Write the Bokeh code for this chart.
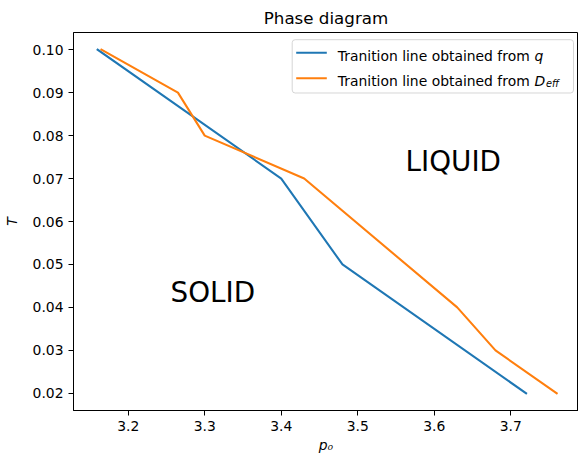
from bokeh.plotting import figure
from bokeh.models import (Range1d, FixedTicker, NumeralTickFormatter, Label,
                          BoxAnnotation)
from bokeh.embed import file_html
from bokeh.resources import INLINE

# ---- data ----
q_p0 = [3.16, 3.40, 3.48, 3.72]
q_T = [0.10, 0.07, 0.05, 0.02]
d_p0 = [3.165, 3.265, 3.30, 3.43, 3.63, 3.68, 3.76]
d_T = [0.10, 0.09, 0.08, 0.07, 0.04, 0.03, 0.02]
x_ticks = [3.2, 3.3, 3.4, 3.5, 3.6, 3.7]
y_ticks = [0.02, 0.03, 0.04, 0.05, 0.06, 0.07, 0.08, 0.09, 0.10]
legend_labels = ["Tranition line obtained from ", "Tranition line obtained from "]
C0 = "#1f77b4"
C1 = "#ff7f0e"
FONT = "DejaVu Sans"

p = figure(width=578, height=455, output_backend="svg", toolbar_location=None,
           x_range=Range1d(3.1285, 3.7885), y_range=Range1d(0.016, 0.104),
           min_border_left=73, min_border_right=0, min_border_top=32,
           min_border_bottom=45, title="Phase diagram")

p.title.text_font = FONT
p.title.text_font_size = "16.7px"
p.title.text_font_style = "normal"
p.title.align = "center"
p.title.text_color = "black"

p.background_fill_color = "white"
p.border_fill_color = "white"
p.outline_line_color = "black"
p.outline_line_width = 1
p.outline_line_alpha = 1
p.grid.visible = False

for ax in (p.xaxis[0], p.yaxis[0]):
    ax.axis_line_color = "black"
    ax.major_tick_line_color = "black"
    ax.major_tick_out = 5
    ax.major_tick_in = 0
    ax.minor_tick_line_color = None
    ax.major_label_text_font = FONT
    ax.major_label_text_font_size = "13.9px"
    ax.major_label_text_color = "black"
    ax.axis_label_text_font = FONT
    ax.axis_label_text_font_size = "13.9px"
    ax.axis_label_text_color = "black"
    ax.axis_label_text_font_style = "italic"

p.xaxis.ticker = FixedTicker(ticks=x_ticks)
p.xaxis.formatter = NumeralTickFormatter(format="0.0")
p.yaxis.ticker = FixedTicker(ticks=y_ticks)
p.yaxis.formatter = NumeralTickFormatter(format="0.00")
p.xaxis.axis_label = "p\u2080"
p.yaxis.axis_label = "T"
p.xaxis.axis_label_standoff = 3
p.yaxis.axis_label_standoff = 10

p.line(q_p0, q_T, line_color=C0, line_width=2.08, line_cap="square")
p.line(d_p0, d_T, line_color=C1, line_width=2.08, line_cap="square")

# region labels
p.add_layout(Label(x=3.2553, y=0.0434, text="SOLID", text_font=FONT,
                   text_font_size="27.8px", text_color="black",
                   text_baseline="alphabetic", text_align="left"))
p.add_layout(Label(x=3.5624, y=0.0739, text="LIQUID", text_font=FONT,
                   text_font_size="27.8px", text_color="black",
                   text_baseline="alphabetic", text_align="left"))

# legend (screen units relative to frame)
p.add_layout(BoxAnnotation(left=218.7, right=500, top=370.8, bottom=317.5,
                           left_units="screen", right_units="screen",
                           top_units="screen", bottom_units="screen",
                           fill_color="white", fill_alpha=0.8,
                           line_color="#cccccc", line_alpha=0.8, line_width=1,
                           border_radius=3))
for yc, col in ((357.8, C0), (332.2, C1)):
    p.add_layout(BoxAnnotation(left=222.7, right=253.3, top=yc + 1.04,
                               bottom=yc - 1.04,
                               left_units="screen", right_units="screen",
                               top_units="screen", bottom_units="screen",
                               fill_color=col, fill_alpha=1, line_color=None))
for yb, lab in ((354.5, legend_labels[0]), (330.0, legend_labels[1])):
    p.add_layout(Label(x=264.3, y=yb, x_units="screen", y_units="screen",
                       text=lab, text_font=FONT, text_font_size="13.9px",
                       text_color="black", text_baseline="alphabetic"))
p.add_layout(Label(x=461.0, y=354.5, x_units="screen", y_units="screen",
                   text="q", text_font=FONT, text_font_size="13.9px",
                   text_font_style="italic", text_color="black",
                   text_baseline="alphabetic"))
p.add_layout(Label(x=461.0, y=330.0, x_units="screen", y_units="screen",
                   text="D", text_font=FONT, text_font_size="13.9px",
                   text_font_style="italic", text_color="black",
                   text_baseline="alphabetic"))
p.add_layout(Label(x=472.5, y=327.5, x_units="screen", y_units="screen",
                   text="eff", text_font=FONT, text_font_size="9.7px",
                   text_font_style="italic", text_color="black",
                   text_baseline="alphabetic"))

open("out.html", "w").write(file_html(p, INLINE))
